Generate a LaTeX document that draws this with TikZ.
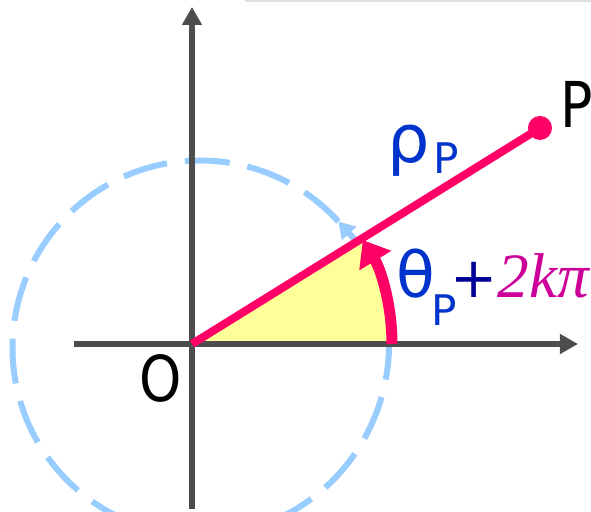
\documentclass[tikz,border=0pt]{standalone}
\usepackage{fontspec}
\usetikzlibrary{arrows.meta}
\newfontfamily\lblsans[FakeStretch=0.85]{DejaVu Sans}
\newfontfamily\greeksans{DejaVu Sans}
\newfontfamily\lblserif{Liberation Serif}
\definecolor{axisgray}{HTML}{4D4D4D}
\definecolor{raypink}{HTML}{FF0066}
\definecolor{sectoryellow}{HTML}{FFFF99}
\definecolor{dashblue}{HTML}{99CCFF}
\definecolor{textblue}{HTML}{0033CC}
\definecolor{plusnavy}{HTML}{000099}
\definecolor{kmagenta}{HTML}{CC0099}
\tikzset{
  axis/.style={axisgray, line width=0.6mm, -{Triangle[length=1.8mm, width=1.9mm]}},
  lbl/.style={inner sep=0pt, font=\lblsans\fontsize{18}{18}\selectfont},
}
\begin{document}
\begin{tikzpicture}
  \useasboundingbox (-1.92,-1.68) rectangle (3.99,3.44);
  \coordinate (O) at (0,0);
  \coordinate (P) at (3.48,2.16);
  \coordinate (C) at (0.08,-0.04);
  \coordinate (xl) at (-1.18,0);
  \coordinate (xr) at (3.86,0);
  \coordinate (yb) at (0,-1.65);
  \coordinate (yt) at (0,3.37);
  \coordinate (A) at (2,0);

  % faint frame edge at the top
  \draw[black!12, line width=0.3mm] (0.53,3.43) -- (3.99,3.43);

  % one full turn, dashed
  \draw[dashblue, line width=0.6mm, dash pattern=on 4.5mm off 1.8mm,
        -{Triangle[length=1.6mm, width=1.9mm]}]
    (C) ++(42.4:1.875) arc[start angle=42.4, end angle=402.4, radius=1.875];

  % angle sector
  \fill[sectoryellow] (O) -- (A) arc[start angle=0, end angle=31.83, radius=2] -- cycle;

  % axes
  \draw[axis] (xl) -- (xr);
  \draw[axis] (yb) -- (yt);

  % angle arrow
  \draw[raypink, line width=1.1mm, -{Triangle[length=2.4mm, width=3.6mm]}]
    (A) arc[start angle=0, end angle=31.3, radius=2];

  % ray to P
  \draw[raypink, line width=0.8mm] (O) -- (P);
  \fill[raypink] (P) circle[radius=0.12];

  % labels
  \node[lbl, anchor=base west] (Plbl) at (3.68,2.16) {P};
  \node[lbl, anchor=base east] (Olbl) at (-0.09,-0.575) {O};
  \node[inner sep=0pt, anchor=base west, textblue] (rho) at (1.95,1.81)
    {\greeksans\fontsize{19}{19}\selectfont ρ\kern0.3mm\raisebox{-1.1mm}{\fontsize{12}{12}\selectfont P}};
  \node[inner sep=0pt, anchor=base west] (theta) at (2.04,0.46)
    {\color{textblue}\greeksans\fontsize{18}{18}\selectfont θ\kern-0.4mm\raisebox{-2.8mm}{\fontsize{12}{12}\selectfont P}%
     \kern-0.6mm{\color{plusnavy}\fontsize{16}{16}\selectfont +}%
     {\color{kmagenta}\lblserif\itshape\fontsize{18}{18}\selectfont 2kπ}};
\end{tikzpicture}
\end{document}
